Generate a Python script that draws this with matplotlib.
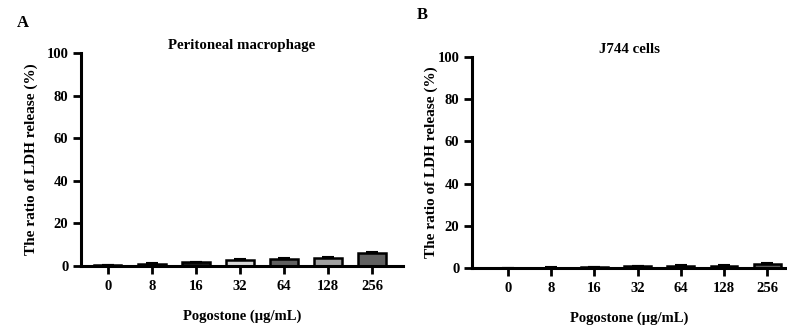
import matplotlib
matplotlib.use("Agg")
import matplotlib.pyplot as plt
import numpy as np

plt.rcParams['font.family'] = ['Liberation Serif', 'DejaVu Serif']
plt.rcParams['font.weight'] = 'bold'

doses = ['0', '8', '16', '32', '64', '128', '256']

# LDH release (%)
macro_vals = [0.5, 1.0, 1.8, 3.0, 3.3, 3.9, 6.0]
macro_err = [0.2, 0.3, 0.3, 0.3, 0.3, 0.4, 0.6]
j744_vals = [0.1, 0.3, 0.5, 1.0, 1.2, 1.2, 2.0]
j744_err = [0.1, 0.1, 0.2, 0.2, 0.2, 0.2, 0.3]

bar_colors = ['#1a1a1a', '#1a1a1a', '#1a1a1a', '#d8d8d8', '#606060', '#a0a0a0', '#606060']


def draw_panel(ax, vals, errs, title, xlim, ypad):
    x = np.arange(len(doses))
    ax.bar(x, vals, width=0.62, color=bar_colors, edgecolor='black', linewidth=1.8, zorder=2)
    ax.errorbar(x, vals, yerr=[np.zeros(len(errs)), errs], fmt='none', ecolor='black',
                elinewidth=1.5, capsize=4, capthick=1.5, zorder=3)
    ax.set_ylim(0, 100)
    ax.set_xlim(*xlim)
    ax.set_yticks([0, 20, 40, 60, 80, 100])
    ax.set_xticks(x)
    ax.set_xticklabels(doses)
    for s in ['top', 'right']:
        ax.spines[s].set_visible(False)
    for s in ['left', 'bottom']:
        ax.spines[s].set_linewidth(2.2)
    ax.tick_params(axis='both', width=2.0, length=6, labelsize=10.5, pad=3)
    ax.tick_params(axis='x', length=6, pad=4)
    ax.set_ylabel('The ratio of LDH release (%)', fontsize=11, fontweight='bold', labelpad=ypad)
    ax.set_xlabel('Pogostone (µg/mL)', fontsize=10.5, fontweight='bold', labelpad=12)
    ax.set_title(title, fontsize=10.7, fontweight='bold', pad=3)


fig = plt.figure(figsize=(7.87, 3.29), dpi=100)
ax1 = fig.add_axes([0.1029, 0.1915, 0.409, 0.647])
ax2 = fig.add_axes([0.5997, 0.185, 0.40, 0.642])

draw_panel(ax1, macro_vals, macro_err, 'Peritoneal macrophage', (-0.61, 6.7), 6)
draw_panel(ax2, j744_vals, j744_err, 'J744 cells', (-0.83, 6.45), 0)

fig.text(0.021, 0.93, 'A', fontsize=12, fontweight='bold', va='center')
fig.text(0.53, 0.953, 'B', fontsize=12, fontweight='bold', va='center')

fig.savefig('out.png', dpi=100)
